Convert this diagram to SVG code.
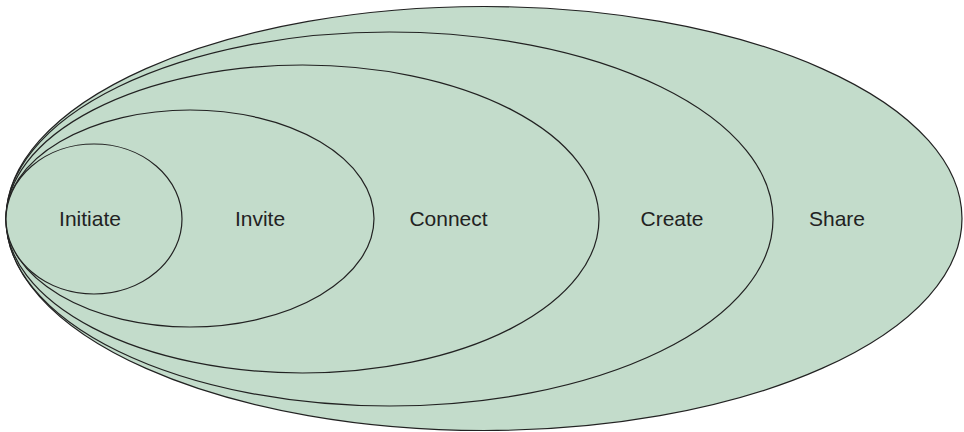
<svg xmlns="http://www.w3.org/2000/svg" width="964" height="432" viewBox="0 0 964 432">
<style>
.e{fill:#c3dccb;stroke:#222;stroke-width:1.2}
.t{font-family:"Liberation Sans",Arial,sans-serif;font-size:21px;fill:#222;text-anchor:middle}
</style>
<rect width="964" height="432" fill="#fff"/>
<g id="share"><ellipse class="e" cx="484" cy="218.5" rx="478" ry="212"/><text class="t" x="837" y="226">Share</text></g>
<g id="create"><ellipse class="e" cx="389.5" cy="219" rx="383.5" ry="187"/><text class="t" x="672" y="226">Create</text></g>
<g id="connect"><ellipse class="e" cx="302.5" cy="219" rx="296.5" ry="154"/><text class="t" x="448.5" y="226">Connect</text></g>
<g id="invite"><ellipse class="e" cx="190" cy="218.5" rx="184" ry="108.5"/><text class="t" x="260" y="226">Invite</text></g>
<g id="initiate"><ellipse class="e" cx="94" cy="219" rx="88" ry="75"/><text class="t" x="90" y="226">Initiate</text></g>
<g id="connectors"/>
</svg>
